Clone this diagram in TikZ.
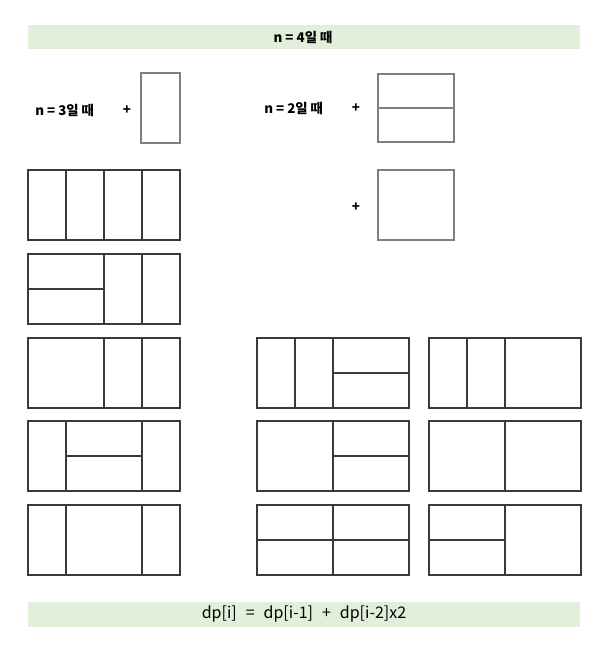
\documentclass[tikz,border=0pt]{standalone}
\usepackage{fontspec}
\setmainfont{Noto Sans CJK KR}
\newfontfamily\formulafont[WordSpace=2.5]{Noto Sans CJK KR}
\definecolor{bannergreen}{HTML}{E2EFDA}
\definecolor{tileline}{HTML}{3A3A3A}
\definecolor{pieceline}{HTML}{808080}
\tikzset{
  banner/.style={fill=bannergreen, draw=none},
  tile/.style={draw=tileline, line width=0.8pt},
  piece/.style={draw=pieceline, line width=1.5pt},
  lbl/.style={font=\bfseries\fontsize{10}{12}\selectfont, inner sep=0pt}
}
\begin{document}
\begin{tikzpicture}[x=0.75pt, y=-0.75pt]
  \useasboundingbox (0,0) rectangle (607,646);
  % banners
  \fill[banner] (28,25) rectangle (580,49);
  \fill[banner] (28,602) rectangle (580,627);
  \node[lbl] (title) at (303,37) {n = 4일 때};
  \node[font=\formulafont\fontsize{12}{14}\selectfont, inner sep=0pt] (formula) at (304,614) {dp[i] = dp[i-1] + dp[i-2]x2};
  % n = 3 plus one vertical piece
  \node[lbl, anchor=west] (n3) at (35,110) {n = 3일 때};
  \node[lbl] (plus3) at (127,110) {+};
  \draw[piece] (141,73) rectangle (180,143);
  % n = 2 plus two horizontal pieces, or one square
  \node[lbl, anchor=west] (n2) at (264,108) {n = 2일 때};
  \node[lbl] (plus2) at (356,108) {+};
  \draw[piece] (378,74) rectangle (454,142);
  \draw[piece] (378,108) -- (454,108);
  \node[lbl] (plus) at (356,207) {+};
  \draw[piece] (378,170) rectangle (454,240);
  % left column
  \begin{scope}[tile]
    \draw (28,170) rectangle (180,240);
    \draw (66,170) -- (66,240);
    \draw (104,170) -- (104,240);
    \draw (142,170) -- (142,240);
    \draw (28,254) rectangle (180,324);
    \draw (28,289) -- (104,289);
    \draw (104,254) -- (104,324);
    \draw (142,254) -- (142,324);
    \draw (28,338) rectangle (180,408);
    \draw (104,338) -- (104,408);
    \draw (142,338) -- (142,408);
    \draw (28,421) rectangle (180,491);
    \draw (66,421) -- (66,491);
    \draw (142,421) -- (142,491);
    \draw (66,456) -- (142,456);
    \draw (28,505) rectangle (180,575);
    \draw (66,505) -- (66,575);
    \draw (142,505) -- (142,575);
  \end{scope}
  % middle column
  \begin{scope}[tile]
    \draw (257,338) rectangle (409,408);
    \draw (295,338) -- (295,408);
    \draw (333,338) -- (333,408);
    \draw (333,373) -- (409,373);
    \draw (257,421) rectangle (409,491);
    \draw (333,421) -- (333,491);
    \draw (333,456) -- (409,456);
    \draw (257,505) rectangle (409,575);
    \draw (333,505) -- (333,575);
    \draw (257,540) -- (409,540);
  \end{scope}
  % right column
  \begin{scope}[tile]
    \draw (429,338) rectangle (581,408);
    \draw (467,338) -- (467,408);
    \draw (505,338) -- (505,408);
    \draw (429,421) rectangle (581,491);
    \draw (505,421) -- (505,491);
    \draw (429,505) rectangle (581,575);
    \draw (505,505) -- (505,575);
    \draw (429,540) -- (505,540);
  \end{scope}
\end{tikzpicture}
\end{document}
